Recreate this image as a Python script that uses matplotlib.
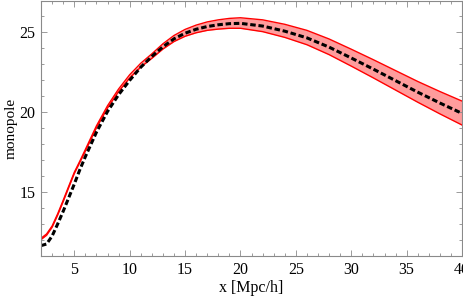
import matplotlib
matplotlib.use("Agg")
import matplotlib.pyplot as plt
from matplotlib.ticker import MultipleLocator

# values
x = [2, 2.5, 3, 3.5, 4, 4.5, 5, 5.5, 6, 7, 8, 9, 10, 11, 12, 13, 14, 15,
     16, 17, 18, 19, 20, 22, 24, 26, 28, 30, 32, 34, 36, 38, 40]

model = [11.65, 11.75, 12.25, 13.0, 13.8, 14.65, 15.5, 16.4, 17.22, 18.75,
         20.05, 21.1, 22.0, 22.82, 23.5, 24.1, 24.6, 24.95, 25.2, 25.37,
         25.48, 25.55, 25.57, 25.4, 25.08, 24.66, 24.08, 23.4, 22.7, 21.98,
         21.26, 20.58, 19.93]

band_hi = [12.11, 12.38, 12.88, 13.64, 14.49, 15.37, 16.24, 16.94, 17.67,
           19.15, 20.41, 21.46, 22.35, 23.07, 23.66, 24.29, 24.81, 25.19,
           25.46, 25.66, 25.79, 25.88, 25.92, 25.79, 25.51, 25.13, 24.59,
           23.95, 23.29, 22.61, 21.93, 21.3, 20.7]

band_lo = [12.03, 12.3, 12.8, 13.56, 14.41, 15.29, 16.16, 16.86, 17.57,
           19.03, 20.27, 21.3, 22.15, 22.83, 23.38, 23.96, 24.43, 24.76,
           24.98, 25.13, 25.21, 25.26, 25.26, 25.05, 24.69, 24.23, 23.61,
           22.89, 22.15, 21.39, 20.63, 19.9, 19.2]

plt.rcParams["font.family"] = ["Liberation Serif", "DejaVu Serif"]

fig = plt.figure(figsize=(4.63, 2.99), dpi=100)
ax = fig.add_axes([0.0886, 0.1438, 0.9094, 0.8545])

ax.fill_between(x, band_lo, band_hi, color="#ff9c9c", lw=0)
ax.plot(x, band_hi, color="red", lw=1.0)
ax.plot(x, band_lo, color="red", lw=1.0)
ax.plot(x, model, color="black", lw=2.2, ls=(0, (1.8, 0.9)))

ax.set_xlim(2, 40)
ax.set_ylim(11, 27)
ax.xaxis.set_major_locator(MultipleLocator(5))
ax.xaxis.set_minor_locator(MultipleLocator(1))
ax.yaxis.set_major_locator(MultipleLocator(5))
ax.yaxis.set_minor_locator(MultipleLocator(1))

for s in ax.spines.values():
    s.set_color("#8a8a8a")
    s.set_linewidth(0.8)
ax.tick_params(which="both", direction="in", top=True, right=True,
               colors="#8a8a8a", labelcolor="black", labelsize=11.5, width=0.6)
ax.tick_params(which="major", length=4, pad=4)
ax.tick_params(which="minor", length=2)

ax.set_xlabel("x [Mpc/h]", fontsize=11.5, labelpad=2)
ax.set_ylabel("monopole", fontsize=11, labelpad=1)

fig.savefig("out.png", dpi=100)
